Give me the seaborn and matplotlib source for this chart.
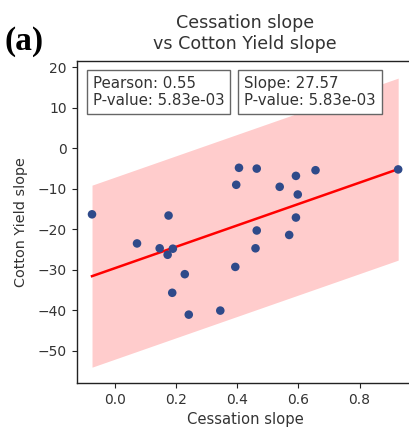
import numpy as np
import pandas as pd
import matplotlib
matplotlib.use("Agg")
import matplotlib.pyplot as plt
import seaborn as sns

# Data
cessation_slope = [-0.074, 0.073, 0.147, 0.176, 0.173, 0.190, 0.229, 0.188, 0.242, 0.345,
                   0.394, 0.397, 0.406, 0.464, 0.464, 0.460, 0.539, 0.570, 0.592, 0.598,
                   0.592, 0.656, 0.926]
cotton_yield_slope = [-16.3, -23.5, -24.7, -16.6, -26.3, -24.8, -31.1, -35.7, -41.1, -40.1,
                      -29.3, -9.0, -4.8, -5.0, -20.3, -24.7, -9.5, -21.4, -6.8, -11.4,
                      -17.1, -5.4, -5.2]
band_half_width = 22.5
pearson_text = "Pearson: 0.55\nP-value: 5.83e-03"
slope_text = "Slope: 27.57\nP-value: 5.83e-03"

df = pd.DataFrame({"Cessation slope": cessation_slope,
                   "Cotton Yield slope": cotton_yield_slope})

plt.style.use("default")
plt.rcParams['font.family'] = ['DejaVu Sans']

fig = plt.figure(figsize=(4.1, 4.3), dpi=100)
ax = fig.add_axes([76.7/410, 47/430, 336.8/410, 322/430])

x = np.array(cessation_slope)
y = np.array(cotton_yield_slope)
m, b = np.polyfit(x, y, 1)
xs = np.linspace(x.min(), x.max(), 100)
ys = m * xs + b
ax.fill_between(xs, ys - band_half_width, ys + band_half_width,
                color="red", alpha=0.2, linewidth=0)
ax.plot(xs, ys, color="red", lw=1.8)
sns.scatterplot(data=df, x="Cessation slope", y="Cotton Yield slope", ax=ax,
                color="#2f4a8a", s=38, edgecolor="none", zorder=3)

ax.set_xlim(-0.124, 0.976)
ax.set_ylim(-58.0, 21.6)
ax.set_xticks([0.0, 0.2, 0.4, 0.6, 0.8])
ax.set_yticks([20, 10, 0, -10, -20, -30, -40, -50])
ax.tick_params(labelsize=10, labelcolor="#333333", color="#222222")
ax.set_xlabel("Cessation slope", fontsize=10.6, color="#333333")
ax.set_ylabel("Cotton Yield slope", fontsize=10.4, color="#333333", labelpad=7)
ax.set_title("Cessation slope\nvs Cotton Yield slope", fontsize=12.6, color="#333333", pad=9)
for s in ax.spines.values():
    s.set_visible(True)
    s.set_color("#222222")
    s.set_linewidth(1.0)

bbox = dict(boxstyle="square,pad=0.4", facecolor="white", edgecolor="#666666", lw=1)
ax.text(0.0475, 0.953, pearson_text, transform=ax.transAxes, fontsize=10.8,
        va="top", ha="left", bbox=bbox, color="#333333", zorder=5, linespacing=1.15)
ax.text(0.498, 0.953, slope_text, transform=ax.transAxes, fontsize=10.8,
        va="top", ha="left", bbox=bbox, color="#333333", zorder=5, linespacing=1.15)

fig.text(5/410, 1 - 50/430, "(a)", fontsize=24, fontweight="bold",
         family=["Liberation Serif"], ha="left", va="baseline")

fig.savefig("out.png", dpi=100)
